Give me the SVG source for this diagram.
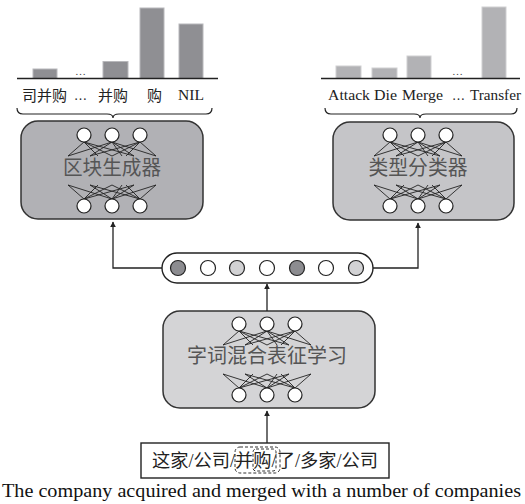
<svg xmlns="http://www.w3.org/2000/svg" width="525" height="504" viewBox="0 0 525 504">
<style>
.serif{font-family:"Liberation Serif","Noto Sans CJK SC",serif;}
.cjk{font-family:"Liberation Serif","Noto Sans CJK SC",serif;}
.lbl{font-size:15px;fill:#222;}
.box{stroke:#333;stroke-width:1.5;}
.bl{fill:#8f8f93;stroke:#b8b8bb;stroke-width:1;}
.br{fill:#b2b2b5;stroke:#cfcfd1;stroke-width:1;}
.axis{stroke:#222;stroke-width:1.3;fill:none;}
.brace{stroke:#222;stroke-width:1.2;fill:none;}
.conn{stroke:#222;stroke-width:1.3;fill:none;}
.boxtext{font-size:20px;fill:#555;}
</style>
<defs>
<marker id="arr" viewBox="0 0 10 10" refX="9" refY="5" markerWidth="6" markerHeight="7" markerUnits="userSpaceOnUse" orient="auto">
<path d="M0,0 L10,5 L0,10 z" fill="#222"/>
</marker>
<g id="net">
<path fill="none" stroke="#222" stroke-width="0.9" d="M-28,7 L-44,21 M-28,7 L0,21 M-28,7 L22,21 M-28,7 L-14,21 M0,7 L-44,21 M0,7 L-22,21 M0,7 L22,21 M0,7 L44,21 M0,7 L10,21 M28,7 L-22,21 M28,7 L0,21 M28,7 L44,21 M28,7 L14,21"/>
<path fill="none" stroke="#222" stroke-width="0.9" d="M-28,64 L-44,50 M-28,64 L0,50 M-28,64 L22,50 M-28,64 L-14,50 M0,64 L-44,50 M0,64 L-22,50 M0,64 L22,50 M0,64 L44,50 M0,64 L10,50 M28,64 L-22,50 M28,64 L0,50 M28,64 L44,50 M28,64 L14,50"/>
<g fill="#fff" stroke="#222" stroke-width="1.2">
<circle cx="-28" cy="0" r="7"/><circle cx="0" cy="0" r="7"/><circle cx="28" cy="0" r="7"/>
<circle cx="-28" cy="71" r="7"/><circle cx="0" cy="71" r="7"/><circle cx="28" cy="71" r="7"/>
</g>
</g>
</defs>
<rect width="525" height="504" fill="#fff"/>

<g id="chart-left">
<rect class="bl" x="33" y="69" width="24" height="9.5"/>
<rect class="bl" x="103" y="61.5" width="25" height="17"/>
<rect class="bl" x="140" y="8" width="24" height="70.5"/>
<rect class="bl" x="179" y="24" width="24" height="54.5"/>
<line class="axis" x1="17" y1="78.5" x2="218" y2="78.5"/>
<text class="serif" x="80.5" y="75" font-size="11" fill="#444" text-anchor="middle">…</text>
<text class="cjk lbl" x="22" y="101" textLength="45" lengthAdjust="spacingAndGlyphs">司并购</text>
<text class="serif lbl" x="74" y="100" textLength="13" lengthAdjust="spacingAndGlyphs">…</text>
<text class="cjk lbl" x="98" y="101" textLength="30" lengthAdjust="spacingAndGlyphs">并购</text>
<text class="cjk lbl" x="147" y="101">购</text>
<text class="serif lbl" x="178" y="100" textLength="26" lengthAdjust="spacingAndGlyphs">NIL</text>
<path class="brace" d="M17,108 q0,6 6,6 H107 q6,0 6,4 q0,-4 6,-4 H206 q6,0 6,-6"/>
</g>

<g id="chart-right">
<rect class="br" x="336" y="66" width="25" height="12.5"/>
<rect class="br" x="372" y="68" width="25" height="10.5"/>
<rect class="br" x="407" y="56" width="24" height="22.5"/>
<rect class="br" x="482" y="7" width="24" height="71.5"/>
<line class="axis" x1="321" y1="78.5" x2="520" y2="78.5"/>
<text class="serif" x="457.5" y="75" font-size="11" fill="#444" text-anchor="middle">…</text>
<text class="serif lbl" x="328" y="100" font-size="16" textLength="42" lengthAdjust="spacingAndGlyphs">Attack</text>
<text class="serif lbl" x="374" y="100" font-size="16" textLength="23" lengthAdjust="spacingAndGlyphs">Die</text>
<text class="serif lbl" x="402" y="100" font-size="16" textLength="41" lengthAdjust="spacingAndGlyphs">Merge</text>
<text class="serif lbl" x="452" y="100" textLength="13" lengthAdjust="spacingAndGlyphs">…</text>
<text class="serif lbl" x="470" y="100" font-size="16" textLength="51" lengthAdjust="spacingAndGlyphs">Transfer</text>
<path class="brace" d="M325,108 q0,6 6,6 H414 q6,0 6,4 q0,-4 6,-4 H511 q6,0 6,-6"/>
</g>

<g id="chunk-generator">
<rect class="box" x="21" y="121" width="182" height="98" rx="17" fill="#b1b1b5"/>
<use href="#net" x="112" y="135"/>
<text class="cjk boxtext" x="112" y="175" text-anchor="middle" textLength="98" lengthAdjust="spacingAndGlyphs">区块生成器</text>
</g>

<g id="type-classifier">
<rect class="box" x="333" y="122" width="181" height="98" rx="17" fill="#c5c5c8"/>
<use href="#net" x="418" y="135"/>
<text class="cjk boxtext" x="418" y="175" text-anchor="middle" textLength="99" lengthAdjust="spacingAndGlyphs">类型分类器</text>
</g>

<g id="vector">
<rect x="162" y="253" width="211" height="30" rx="15" fill="#fff" stroke="#222" stroke-width="1.4"/>
<g stroke="#222" stroke-width="1.2">
<circle cx="178" cy="268" r="7.5" fill="#8c8c90"/>
<circle cx="208" cy="268" r="7.5" fill="#fff"/>
<circle cx="237" cy="268" r="7.5" fill="#d2d2d4"/>
<circle cx="267" cy="268" r="7.5" fill="#fff"/>
<circle cx="297" cy="268" r="7.5" fill="#8c8c90"/>
<circle cx="326" cy="268" r="7.5" fill="#fff"/>
<circle cx="356" cy="268" r="7.5" fill="#d2d2d4"/>
</g>
</g>

<g id="hybrid-repr">
<rect class="box" x="163" y="311" width="212" height="97" rx="17" fill="#d4d4d6"/>
<use href="#net" x="267" y="324"/>
<text class="cjk boxtext" x="267" y="363" text-anchor="middle" textLength="160" lengthAdjust="spacingAndGlyphs">字词混合表征学习</text>
</g>

<g id="input">
<rect x="141" y="443" width="248" height="35" fill="#fff" stroke="#222" stroke-width="1.4"/>
<rect x="235" y="447" width="45" height="26" rx="5" fill="none" stroke="#333" stroke-width="1" stroke-dasharray="3,2"/>
<rect x="253" y="449" width="23" height="22" rx="3" fill="none" stroke="#333" stroke-width="1" stroke-dasharray="3,2"/>
<text class="cjk" x="152" y="467" font-size="18" fill="#222" textLength="226" lengthAdjust="spacingAndGlyphs">这家/公司/并购/了/多家/公司</text>
</g>

<g id="caption">
<text class="serif" x="2" y="497" font-size="18.5" fill="#111" textLength="519" lengthAdjust="spacingAndGlyphs">The company acquired and merged with a number of companies</text>
</g>

<g id="connectors">
<path class="conn" d="M267,311 V284" marker-end="url(#arr)"/>
<path class="conn" d="M162,268 H113 V222" marker-end="url(#arr)"/>
<path class="conn" d="M373,268 H418 V223" marker-end="url(#arr)"/>
<path class="conn" d="M267,443 V411" marker-end="url(#arr)"/>
</g>
</svg>
